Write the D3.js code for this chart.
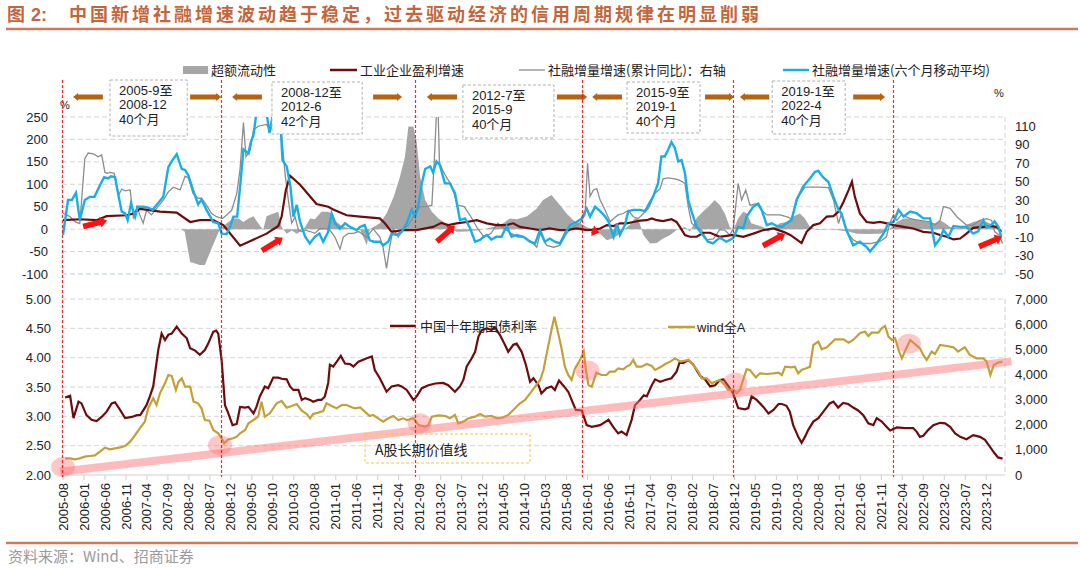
<!DOCTYPE html>
<html lang="zh">
<head>
<meta charset="UTF-8">
<title>社融增速与信用周期</title>
<script src="https://d3js.org/d3.v7.min.js"></script>
<style>
  body { margin: 0; background: #fff; }
  svg { display: block; }
  text { font-family: "Liberation Sans", Arial, "Noto Sans CJK SC", sans-serif; fill: #222; }
  .cjk { font-family: "Noto Sans CJK SC", sans-serif; }
</style>
</head>
<body>
<script>
// month index: 0 = 2005-08
const xTickLabels = ["2005-08","2006-01","2006-06","2006-11","2007-04","2007-09","2008-02","2008-07","2008-12","2009-05","2009-10","2010-03","2010-08","2011-01","2011-06","2011-11","2012-04","2012-09","2013-02","2013-07","2013-12","2014-05","2014-10","2015-03","2015-08","2016-01","2016-06","2016-11","2017-04","2017-09","2018-02","2018-07","2018-12","2019-05","2019-10","2020-03","2020-08","2021-01","2021-06","2021-11","2022-04","2022-09","2023-02","2023-07","2023-12"]
const topLeftTicks = [-100, -50, 0, 50, 100, 150, 200, 250]
const topRightTicks = [-50, -30, -10, 10, 30, 50, 70, 90, 110]
const botLeftTicks = [2, 2.5, 3, 3.5, 4, 4.5, 5]
const botRightTicks = [0, 1000, 2000, 3000, 4000, 5000, 6000, 7000]

// 超额流动性 (左轴)
const excessLiquidity = [[0,0],[28,0],[29,-5],[30.3,-73],[32.6,-80],[33.8,-80],[35.4,-43],[36.6,-17],[37.4,0],[39,13],[40.6,24],[41.8,24],[43,16],[44.2,24],[45.4,29],[46.5,13],[47.7,-2],[48.5,29],[50.1,35],[51.3,39],[52.1,5],[53.3,-10],[54.5,-3],[55.7,-10],[56.5,-6],[57.7,5],[58.9,24],[60,22],[61.6,39],[63.2,39],[64.4,32],[65.2,16],[66.8,5],[68.4,2],[70.8,-2],[72.4,-36],[73.1,0],[75.5,13],[77.1,35],[78.8,72],[80.3,117],[81.5,162],[82.3,229],[83.5,229],[84.3,192],[85.1,117],[86.3,65],[87.9,39],[89.5,24],[90.7,16],[92.2,1.5],[93.8,-6],[96.2,-5],[99.4,-2],[102.5,5],[104.9,13],[106.5,24],[108.1,22],[110.5,28],[112.9,46],[114.4,65],[116.4,76],[118.4,54],[120,35],[121.6,20],[123.2,13],[124.8,5],[126.4,-2],[128,-10],[129.6,-25],[131.2,-20],[132.3,-13],[133.5,-2],[135.1,10],[136.3,25],[137.1,22],[138.3,-13],[139.9,-32],[141.5,-31],[143,-21],[144.7,-13],[146.2,-2],[148.2,5],[149.4,-6],[151,25],[152.6,40],[154.2,54],[155.3,65],[156.5,54],[157.7,35],[158.9,5],[159.7,-2],[160.9,24],[162.1,39],[163,35],[164,13],[165.3,9],[166.9,5],[168,-6],[169.3,1.5],[170.8,13],[172.4,16],[174,28],[175.6,35],[176.8,24],[178,5],[179.6,-2],[182,-1],[184.4,-2],[187.5,-6],[189.1,-10],[191.5,-11],[194.7,-10],[196.3,-6],[197.4,5],[198.7,16],[200.3,24],[201.9,24],[204.2,19],[206.2,16],[207.8,13],[209,20],[210.2,13],[211.4,5],[213.8,2],[215.3,9],[216.9,16],[218.5,20],[220.1,16],[221.7,9],[223.3,-2]]

// 工业企业盈利增速 (左轴)
const industrialProfit = [[0,20],[4,22],[8,20],[10.4,29],[15.2,31],[16.8,35],[18.3,45],[20.3,43],[23.1,39],[27.1,37],[30.3,16],[32.6,20],[35.8,20],[38.2,9],[42.2,-37],[48.5,-10],[51.3,7],[52.1,28],[53.1,87],[54.1,119],[56.5,99],[60.4,56],[63.2,50],[64.4,44],[67.6,31],[70.8,28],[75.5,24],[76.7,13],[78.3,-6],[81,-2],[84.2,-2],[88.2,5],[90.2,14],[91.8,9],[93.8,13],[96.2,16],[98.6,20],[101,13],[103.3,9],[105.7,9],[107.3,13],[108.9,5],[111.3,1.5],[113.7,-2],[116,1.5],[118.4,-2],[120,-2],[122.4,1.5],[124.8,-2],[126.4,-1],[128,1.5],[129.6,9],[131.2,7],[132.7,13],[134.3,13],[135.9,16],[137.5,19],[139.1,20],[140.3,24],[141.5,20],[143,18],[145,22],[146.2,16],[147,5],[148.2,-13],[149.4,-17],[151,-17],[152.6,-8],[154.2,-8],[156.5,-17],[159.7,-13],[162.1,-17],[164.5,-10],[166.9,-2],[169.3,1.5],[171.7,-6],[173.3,-13],[174.8,-23],[176,-31],[177.2,-6],[178.8,9],[180.4,13],[182,28],[183.6,29],[184.8,39],[186,61],[187.2,87],[188,106],[188.7,72],[189.9,35],[191.5,16],[193.1,14],[194.7,16],[196.3,13],[197.9,9],[200.3,5],[202.6,1.5],[205,-6],[207.4,-8],[209,-13],[210.6,-17],[212.2,-23],[213.8,-21],[215.3,-10],[216.9,3],[219.3,5],[220.9,7],[222.5,5],[223.6,-6]]

// 社融增量增速(累计同比) (右轴)
const sfCumulative = [[0,15.5],[0.9,14],[1.7,12],[2.9,6.5],[4,4.7],[5.2,75],[6,81],[7.2,80],[8.4,77],[9.2,79],[10,60],[10.6,59],[11.2,60],[12.2,59],[13.2,35],[14,42],[14.8,40],[16,41],[16.8,10],[17.6,23],[18.3,14],[19.1,5],[19.9,19],[21.1,14],[22.3,21],[23.9,30],[25.1,39],[26.3,44],[27.9,41],[29.1,56],[29.9,54],[31,37],[32.2,32],[33,32],[34.2,24.5],[35.4,15.5],[36.6,12],[38,10],[39,14],[40.2,19],[41.4,37],[42.2,64],[43,114],[43.6,77],[44.6,84],[45.4,106],[46.5,110],[48.5,112],[49.3,106],[50.5,112],[51.3,112],[52.1,100],[52.9,59],[53.7,30],[54.5,5],[55.3,12],[56.1,-2.5],[56.9,-4],[57.7,-2.5],[58.9,-4],[60,-6],[61.2,-1],[62.4,-1],[63.6,-2.5],[64.8,-10],[66,-23],[66.8,-10],[68,-6],[69.2,-6],[70.4,-4],[72.4,-10],[73.9,-1],[75.5,-10],[76.3,-22],[77.1,-44],[77.9,-19],[78.7,-1],[79.9,-10],[81,-2.5],[82.3,3],[83.9,15.5],[85.1,23],[86.7,23],[87.9,24.5],[88.6,84],[89,125],[89.4,125],[89.7,71],[90.5,62],[91.6,53],[92.4,48],[93.2,37],[94,24.5],[95.6,23],[97.2,12],[98.8,-1],[100.4,-10],[102,-6],[103.6,5],[105.2,-1],[106.8,-6],[108.4,-10],[110,-10],[111.6,-15],[112.9,-21],[113.7,-6],[115.3,-19],[116.9,-21],[118.4,-19],[120,-6],[121.6,1],[123.2,5],[124.4,14],[125,70],[125.6,34],[126.4,41],[127.2,42.5],[128,30],[129.2,19],[130.4,6.5],[131.2,10],[132.3,14],[133.5,15.5],[134.7,19],[135.9,12],[137.1,10],[138.3,15.5],[139.5,21],[141,37],[142.3,42.5],[143,53],[144.2,54],[145.8,53],[147,51.5],[148.2,48],[149,23],[149.8,4.7],[151,1],[152.2,-2.5],[153.4,-13],[155,-12],[156.5,-2],[157.7,-2.5],[158.9,-8],[159.7,-1],[160.9,48],[161.7,30],[162.7,41],[163.7,24.5],[165.3,26],[166.5,19],[167.7,14],[169.3,14],[170.8,14],[172.4,12],[173.6,10],[175.2,33.5],[176.8,44],[178.4,44],[180.4,44],[182.4,43.6],[183.6,30],[184.8,4.7],[185.5,15.5],[186.7,-4],[188.3,-13],[189.9,-17],[192.3,-17],[194.6,-15],[196.2,-10],[197,4.7],[197.9,14],[198.7,8],[199.8,14],[201.9,10],[204.2,8],[206.6,6.5],[207.8,3],[209,8],[209.8,23],[211.4,21],[213,12],[215.3,3],[216.9,3],[218.5,8],[220.1,10],[221.3,8],[222,-4],[223.1,-8],[223.9,-17]]

// 社融增量增速(六个月移动平均) (左轴)
const sfMovingAvg = [[0,-13],[1.2,65],[2.1,65],[3.1,81],[4,20],[5.2,65],[6.4,72],[7.5,72],[8.8,98],[9.8,116],[10.8,113],[11.4,118],[12.4,116],[13.2,76],[14,39],[14.8,35],[15.4,20],[16.2,57],[17.2,28],[17.8,50],[19.1,50],[20.3,48],[21.4,43],[22.3,54],[23.9,72],[25.1,138],[25.9,151],[27.1,167],[28.3,134],[29.1,132],[29.9,119],[31,87],[32.2,55],[33,66],[34.2,43],[35.8,16],[37,13],[37.8,-10],[39,-11],[39.8,5],[40.6,28],[41.5,28],[42.2,95],[43,178],[44.2,169],[44.7,192],[45.4,210],[46.1,260],[48.5,260],[49.2,214],[50.1,260],[51.7,260],[52.3,154],[53.3,140],[54.2,95],[54.9,28],[55.7,54],[56.5,16],[57.7,-17],[58.8,-32],[60,-17],[61.1,-10],[62,-28],[63.2,-6],[64,35],[64.8,13],[66,1],[67.2,13],[68.4,5],[70,-2],[70.8,5],[71.9,9],[73.1,-25],[74.1,-28],[75.5,-28],[76.3,-36],[77.5,-28],[78.3,-10],[79.5,-13],[80.7,-6],[81.9,13],[83.1,43],[83.9,28],[84.7,54],[85.5,102],[86.3,134],[87.5,140],[88.2,126],[89,151],[89.8,143],[91,102],[92.2,102],[93.4,80],[94.6,20],[95.8,24],[97,2],[98.2,-28],[99.4,-24],[100.2,-17],[101,-13],[102.1,-23],[103.3,-17],[104.5,-17],[105.7,7],[106.9,-17],[108.1,-13],[109.7,-17],[111.3,-28],[112.5,-32],[113.7,-2],[114.8,-28],[116,-21],[117.2,-28],[118.4,-32],[119.6,-10],[120.8,9],[122.4,16],[123.6,24],[124.8,46],[125.6,28],[126.8,50],[128,40],[129.2,28],[130,16],[131.2,-17],[132,13],[132.7,-13],[133.9,9],[134.7,40],[135.9,43],[137.5,43],[138.7,40],[139.5,54],[140.6,72],[141.8,102],[142.6,162],[143.4,162],[144.2,177],[145,194],[145.8,181],[146.6,151],[147.4,154],[148.2,125],[149,65],[149.8,39],[151,5],[152.2,-10],[153.7,-28],[154.9,-32],[156.5,-19],[158.1,-28],[159.7,-20],[160.9,5],[162.1,2],[162.9,28],[164.5,50],[165.7,57],[166.5,43],[167.7,9],[168.9,13],[170.1,7],[171.3,5],[172.4,13],[173.6,20],[174.8,65],[176.4,95],[178,113],[179.2,128],[180,130],[181.1,116],[182.4,105],[183.6,72],[184.8,43],[185.5,35],[186.7,-2],[188.3,-36],[189.9,-28],[191.5,-40],[192.3,-50],[193.9,-32],[195.5,-10],[196.7,13],[197.9,16],[199.1,43],[200.3,28],[201.9,39],[203.5,35],[205,24],[206.6,24],[207.8,-36],[209,-21],[209.8,-2],[211,-17],[212.2,7],[213.8,5],[215.3,5],[216.9,-10],[218.1,-5],[219.3,20],[220.1,4],[221.3,10],[222,17],[222.9,5],[223.6,-17]]

// 中国十年期国债利率 (左轴, %)
const bondYield = [[0.5,3.32],[1.7,3.35],[2.5,2.97],[3.7,3.25],[4.4,3.22],[5.6,3.02],[6.8,2.94],[8,2.92],[9.2,2.99],[10.4,3.08],[11.6,3.22],[12.4,3.24],[13.6,3.11],[14.8,2.97],[16.4,2.99],[17.6,3.02],[18.4,3.02],[19.9,3.19],[20.7,3.34],[21.5,3.51],[22.7,4.13],[23.5,4.41],[24.3,4.3],[25.1,4.39],[25.9,4.41],[27.1,4.53],[28.3,4.41],[29.5,4.33],[30.3,4.16],[31.5,4.12],[32.6,4.05],[33.8,4.13],[34.6,4.24],[35.8,4.44],[36.5,4.46],[37,4.41],[37.8,3.96],[38.6,3.19],[39.4,3.05],[40.4,2.85],[41.4,2.87],[42.2,3.16],[43.4,3.15],[44.2,3.16],[45.4,3.05],[46.1,3.16],[46.9,3.34],[48.1,3.51],[48.9,3.48],[50.1,3.66],[51.3,3.66],[52.1,3.64],[53.3,3.63],[54.1,3.51],[54.9,3.45],[56.1,3.45],[56.9,3.28],[57.7,3.31],[58.9,3.28],[59.6,3.25],[60.8,3.28],[61.6,3.28],[62.4,3.34],[63.2,3.57],[63.6,3.88],[64.4,3.85],[65.2,3.93],[66.2,4.03],[67.2,3.9],[68.4,3.89],[69.2,3.85],[70.4,3.93],[72.4,3.99],[73.6,4.02],[74.3,3.79],[75.5,3.65],[77.1,3.42],[78.3,3.51],[79.9,3.53],[80.7,3.51],[81.9,3.45],[83.5,3.28],[84.3,3.34],[85.5,3.48],[87.1,3.53],[88.7,3.56],[90.6,3.57],[91.8,3.53],[93.4,3.42],[94.6,3.51],[95.4,3.62],[96.2,3.85],[97.4,3.99],[98.2,4.1],[99,4.36],[99.8,4.47],[101,4.5],[102.1,4.47],[102.9,4.52],[104.1,4.39],[105.3,4.22],[106.1,4.1],[107.3,4.22],[108.1,4.24],[109.3,4.1],[110.3,3.88],[111.3,3.59],[112.1,3.65],[113.3,3.53],[114,3.39],[115.2,3.48],[116.4,3.51],[117.2,3.45],[118.2,3.61],[119.4,3.51],[120.4,3.42],[121.2,3.28],[122.2,3.11],[123.6,3.1],[124.8,2.85],[126,2.82],[128,2.85],[130,2.94],[131.1,2.82],[132.3,2.71],[133.1,2.74],[134.3,2.68],[135.5,2.94],[136.3,3.19],[137.5,3.28],[138.4,3.36],[139.1,3.34],[140.3,3.53],[141.1,3.63],[142.3,3.59],[143.5,3.62],[145,3.65],[146.2,3.76],[147,3.93],[147.8,3.91],[149,3.96],[150.2,3.88],[151.8,3.69],[153,3.63],[154.2,3.51],[155.4,3.53],[156.5,3.62],[157.4,3.63],[158.6,3.51],[159.7,3.39],[160.9,3.14],[162.5,3.12],[163.3,3.14],[164.1,3.34],[165.3,3.28],[166.9,3.16],[168.1,3.05],[169.3,3.11],[170.5,3.21],[171.3,3.21],[172.4,3.18],[173.2,3.08],[174,2.85],[175.2,2.65],[176,2.55],[176.8,2.65],[177.6,2.77],[178.8,2.91],[180,2.97],[181.2,3.08],[182.7,3.22],[183.6,3.25],[184.7,3.15],[185.9,3.23],[187.1,3.21],[188.3,3.15],[189.5,3.1],[190.7,3.02],[191.9,2.88],[193.1,2.85],[193.9,2.97],[195.1,2.91],[196.3,2.82],[197.1,2.76],[198.7,2.81],[200.6,2.8],[202.6,2.8],[203.4,2.74],[204.2,2.65],[205,2.67],[206.2,2.77],[207.4,2.85],[209,2.89],[210.2,2.88],[211.4,2.82],[212.6,2.71],[213.8,2.65],[215.3,2.61],[216.9,2.68],[218.5,2.65],[219.7,2.6],[220.9,2.48],[222,2.37],[222.8,2.3],[223.9,2.28]]

// wind全A (右轴)
const windA = [[0.5,663],[1.7,663],[2.9,623],[4,663],[5.2,729],[6.4,756],[7.6,782],[8.8,928],[10,1087],[11.2,1021],[12.4,1061],[13.6,1101],[14.8,1154],[16,1326],[17.2,1591],[18.3,1856],[19.5,2122],[20.3,2652],[21.5,3050],[22.3,2785],[23.1,3249],[24.3,3647],[25.1,3978],[25.9,3938],[26.9,3381],[27.5,3700],[28.3,3845],[29.1,3514],[30.3,3514],[31.1,2917],[32.2,2851],[33,2652],[33.8,2188],[34.9,2161],[35.8,1790],[37,1658],[37.8,1459],[38.4,1260],[39.4,1419],[40.6,1459],[41.4,1525],[42.2,1658],[43.4,1790],[44.2,2055],[45.4,2188],[46.5,2321],[47.3,2917],[48.1,2321],[49.3,2453],[50.9,2851],[52.1,2944],[53.3,2679],[54.5,2745],[55.7,2824],[56.9,2559],[58.1,2427],[58.9,2254],[59.6,2427],[60.8,2480],[62,2546],[62.8,2851],[64,2745],[65.2,2652],[66.4,2785],[67.6,2785],[68.8,2692],[69.6,2652],[70.8,2692],[71.9,2519],[73.1,2347],[73.9,2387],[75.1,2254],[76.3,2122],[77.5,2254],[78.7,2347],[79.9,2188],[81.1,2254],[81.9,2188],[83.5,2254],[84.7,1989],[86.3,1923],[87.1,1989],[87.9,2321],[89.5,2374],[91.1,2347],[92.2,2254],[93.4,2387],[94.2,2055],[95.4,2122],[96.6,2254],[98.2,2321],[99.4,2427],[100.6,2321],[102.1,2347],[103.4,2254],[104.9,2294],[106.1,2387],[107.3,2586],[108.9,2851],[110.1,2983],[111.3,3249],[112.5,3514],[113.7,3779],[114.5,4177],[115.6,5105],[116.4,5768],[117.1,6299],[118,5636],[118.8,5039],[119.6,4310],[120.4,3978],[121.2,3779],[122,4243],[123.2,4575],[124.1,4906],[124.6,4177],[125.2,3580],[126,3514],[127.1,4071],[128.3,3978],[129.5,3978],[130.3,4111],[131.5,4111],[132.3,4243],[133.5,4203],[134.3,4310],[135.1,4376],[135.9,4575],[136.7,4310],[137.9,4310],[139.1,4416],[140.3,4336],[141.1,4177],[142.3,4283],[143.5,4416],[144.7,4508],[145.9,4641],[147.1,4508],[148.3,4548],[149.1,4575],[150.2,4376],[151.4,4111],[152.2,3845],[153.4,3845],[154.6,3647],[155.4,3713],[156.5,3779],[157.7,3580],[158.5,3381],[159.7,3408],[160.5,3249],[161.3,3381],[162.1,3806],[162.9,4203],[163.7,4177],[165.1,3885],[166.1,4044],[167.7,4018],[169.3,4044],[170.5,4071],[171.3,3978],[172.1,4310],[173.6,4283],[174.4,4310],[175.2,4044],[176,4177],[177.1,4243],[178,4310],[178.8,5171],[180,5304],[180.8,4999],[182,5079],[184,5397],[186,5397],[187.2,5264],[188.3,5370],[189.9,5636],[191.1,5702],[191.9,5529],[192.7,5662],[194.3,5662],[195.1,5834],[195.9,5927],[196.7,5503],[197.5,5370],[198.3,5437],[199.1,4973],[199.9,4641],[200.6,4906],[201.9,5370],[203,5211],[204.2,5039],[205,4774],[205.8,4575],[207,4906],[207.8,4813],[209,5171],[210.6,5132],[212.2,5079],[213.3,4906],[214.9,5079],[216.1,4774],[217.7,4641],[219.3,4641],[220.1,4508],[221,3978],[221.8,4376],[222.8,4469],[223.9,4508]]

// 信用周期分界、周期标注
const cycleBreaks = [0, 38, 84, 124, 160, 198]
const cycleText = [["2005-9至","2008-12","40个月"],["2008-12至","2012-6","42个月"],["2012-7至","2015-9","40个月"],["2015-9至","2019-1","40个月"],["2019-1至","2022-4","40个月"]]
// A股长期价值线 (右轴), 端点
const valueLine = [[-0.7, 130], [226, 4520]]
// 估值底部标记 (右轴)
const valueMarks = [[0, 316], [37.4, 1186], [85, 2057], [125, 4153], [160.2, 3678], [201.6, 5221]]
// 红色箭头 (左轴): [起点, 终点]
const redArrows = [[[4.8, 6], [10.5, 19]], [[47.4, -48], [52.4, -19]], [[89.1, -28], [93.4, 8]], [[126, -3], [127.8, -8]], [[166.8, -37], [172.1, -10]], [[218.3, -39], [223.8, -17]]]

// ---- layout (pixels) ----
const width = 1080, height = 568
const boxLayout = [[11.2, 29.6, 80, 136], [49.8, 71.3, 82, 134], [95.3, 117, 85, 138], [134.4, 151.8, 82, 133], [169, 186.4, 81, 134]]
const flowArrows = [[2.4, 9.5, -1], [30.3, 37.7, 1], [40.3, 47.4, -1], [73.9, 80.8, 1], [86.7, 93.9, -1], [117.7, 124.9, 1], [126.1, 133.2, -1], [153, 159.9, 1], [161.3, 168.3, -1], [188.3, 195.9, 1]]

const svg = d3.select('body').append('svg')
    .attr('width', width)
    .attr('height', height)

const x = d3.scaleLinear().domain([0, 224]).range([63, 1003])
const plotL = 62, plotR = 1005
const yL1 = d3.scaleLinear().domain([-100, 250]).range([274, 117])
const yR1 = d3.scaleLinear().domain([-50, 120]).range([274, 117])
const yL2 = d3.scaleLinear().domain([2, 5]).range([475, 299])
const yR2 = d3.scaleLinear().domain([0, 7000]).range([475, 299])

function mi(s) {
    const p = s.split('-').map(Number)
    return (p[0] - 2005) * 12 + p[1] - 8
}

// title
const title = svg.append('text').attr('y', 21)
    .style('font-size', '18px').style('font-weight', 'bold')
title.append('tspan').attr('x', 7).attr('class', 'cjk').style('fill', '#c4663c').text('图')
title.append('tspan').attr('x', 31).style('fill', '#c4663c').text('2:')
title.append('tspan').attr('x', 69).attr('class', 'cjk')
    .style('fill', '#c4663c').style('letter-spacing', '3px')
    .text('中国新增社融增速波动趋于稳定，过去驱动经济的信用周期规律在明显削弱')
svg.append('line').attr('x1', 6).attr('x2', 1078).attr('y1', 29).attr('y2', 29)
    .attr('stroke', '#c97b5b').attr('stroke-width', 2.5)

// legend (top)
const lg = svg.append('g').style('font-size', '13px')
lg.append('rect').attr('x', 183).attr('y', 66).attr('width', 25).attr('height', 8).attr('fill', '#a6a6a6')
lg.append('text').attr('class', 'cjk').attr('x', 211).attr('y', 74.5).text('超额流动性')
lg.append('line').attr('x1', 330).attr('x2', 357).attr('y1', 70).attr('y2', 70).attr('stroke', '#6e0c0c').attr('stroke-width', 2.5)
lg.append('text').attr('class', 'cjk').attr('x', 360).attr('y', 74.5).text('工业企业盈利增速')
lg.append('line').attr('x1', 519).attr('x2', 545).attr('y1', 70).attr('y2', 70).attr('stroke', '#8c8c8c').attr('stroke-width', 1.3)
lg.append('text').attr('class', 'cjk').attr('x', 548).attr('y', 74.5).text('社融增量增速(累计同比)：右轴')
lg.append('line').attr('x1', 783).attr('x2', 809).attr('y1', 70).attr('y2', 70).attr('stroke', '#18aee8').attr('stroke-width', 2.5)
lg.append('text').attr('class', 'cjk').attr('x', 812).attr('y', 74.5).text('社融增量增速(六个月移动平均)')

// ---- top panel ----
const gTop = svg.append('g')
gTop.selectAll('.gridT').data(topLeftTicks).enter().append('line')
    .attr('x1', plotL).attr('x2', plotR)
    .attr('y1', d => yL1(d)).attr('y2', d => yL1(d))
    .attr('stroke', d => d === -100 ? '#b9c9e4' : '#d6d6d6')
    .attr('stroke-dasharray', '5,3')
gTop.append('line').attr('x1', plotR).attr('x2', plotR).attr('y1', 117).attr('y2', 274)
    .attr('stroke', '#c8d3e6').attr('stroke-dasharray', '5,3')

svg.append('clipPath').attr('id', 'clipTop').append('rect')
    .attr('x', plotL).attr('y', 117).attr('width', plotR - plotL).attr('height', 157)
const topData = gTop.append('g').attr('clip-path', 'url(#clipTop)')

topData.append('path').datum(excessLiquidity)
    .attr('fill', '#a6a6a6')
    .attr('d', d3.area().x(d => x(d[0])).y0(yL1(0)).y1(d => yL1(d[1])))
topData.append('path').datum(sfCumulative)
    .attr('fill', 'none').attr('stroke', '#8c8c8c').attr('stroke-width', 1.3)
    .attr('d', d3.line().x(d => x(d[0])).y(d => yR1(d[1])))
topData.append('path').datum(industrialProfit)
    .attr('fill', 'none').attr('stroke', '#6e0c0c').attr('stroke-width', 2.2)
    .attr('d', d3.line().x(d => x(d[0])).y(d => yL1(d[1])))
topData.append('path').datum(sfMovingAvg)
    .attr('fill', 'none').attr('stroke', '#18aee8').attr('stroke-width', 2.4)
    .attr('d', d3.line().x(d => x(d[0])).y(d => yL1(d[1])))

// axes labels top
gTop.selectAll('.tl').data(topLeftTicks).enter().append('text')
    .attr('x', 48).attr('y', d => yL1(d)).attr('dy', '0.35em')
    .attr('text-anchor', 'end').style('font-size', '13px').text(d => d)
gTop.selectAll('.tr').data(topRightTicks).enter().append('text')
    .attr('x', 1015).attr('y', d => yR1(d)).attr('dy', '0.35em')
    .style('font-size', '13px').text(d => d)
svg.append('text').attr('x', 60).attr('y', 109).style('font-size', '11px').text('%')
svg.append('text').attr('x', 994).attr('y', 97).style('font-size', '11px').text('%')

// red arrows (top)
function arrowPath(p0, p1, sw, hw, hl) {
    const dx = p1[0] - p0[0], dy = p1[1] - p0[1]
    const len = Math.hypot(dx, dy), ux = dx / len, uy = dy / len
    const nx = -uy, ny = ux
    const b = Math.max(len - hl, 0)
    const pt = (a, n) => [p0[0] + ux * a + nx * n, p0[1] + uy * a + ny * n]
    return d3.line()([pt(0, -sw), pt(b, -sw), pt(b, -hw), pt(len, 0), pt(b, hw), pt(b, sw), pt(0, sw)]) + 'Z'
}
gTop.selectAll('.redArrow').data(redArrows).enter().append('path')
    .attr('fill', '#ff1010')
    .attr('d', d => arrowPath([x(d[0][0]), yL1(d[0][1])], [x(d[1][0]), yL1(d[1][1])], 2.8, 5.5, 7))

// cycle boxes
const boxes = svg.append('g')
boxLayout.forEach((b, i) => {
    const g = boxes.append('g')
    g.append('rect').attr('x', x(b[0])).attr('y', b[2])
        .attr('width', x(b[1]) - x(b[0])).attr('height', b[3] - b[2])
        .attr('fill', '#fff').attr('stroke', '#b0b0b0').attr('stroke-dasharray', '3,2')
    cycleText[i].forEach((t, j) => {
        g.append('text').attr('x', x(b[0]) + 9).attr('y', b[2] + 10 + j * 14.5)
            .attr('dy', '0.35em').style('font-size', '13px').text(t)
    })
})

// flow arrows (orange)
svg.selectAll('.flow').data(flowArrows).enter().append('path')
    .attr('fill', '#b8620e')
    .attr('d', d => {
        const a = d[2] < 0 ? [x(d[1]), 97] : [x(d[0]), 97]
        const b = d[2] < 0 ? [x(d[0]), 97] : [x(d[1]), 97]
        return arrowPath(a, b, 2.5, 4, 5)
    })

// ---- bottom panel ----
const gBot = svg.append('g')
gBot.selectAll('.gridB').data(botLeftTicks.filter(d => d > 2)).enter().append('line')
    .attr('x1', plotL).attr('x2', plotR)
    .attr('y1', d => yL2(d)).attr('y2', d => yL2(d))
    .attr('stroke', '#d6d6d6').attr('stroke-dasharray', '5,3')
gBot.append('line').attr('x1', plotR).attr('x2', plotR).attr('y1', 299).attr('y2', 475)
    .attr('stroke', '#d0d0d0').attr('stroke-dasharray', '5,3')
gBot.append('line').attr('x1', plotL).attr('x2', plotR).attr('y1', 475).attr('y2', 475)
    .attr('stroke', '#cfcfcf').attr('stroke-width', 1.2)
gBot.selectAll('.xt').data(xTickLabels).enter().append('line')
    .attr('x1', d => x(mi(d))).attr('x2', d => x(mi(d)))
    .attr('y1', 475).attr('y2', 480).attr('stroke', '#cfcfcf')
gBot.selectAll('.xl').data(xTickLabels).enter().append('text')
    .attr('transform', d => `translate(${x(mi(d))},483) rotate(-90)`)
    .attr('text-anchor', 'end').attr('dy', '0.35em')
    .style('font-size', '13px').text(d => d)

gBot.append('path').datum(bondYield)
    .attr('fill', 'none').attr('stroke', '#6e0c0c').attr('stroke-width', 2.2)
    .attr('d', d3.line().x(d => x(d[0])).y(d => yL2(d[1])))
gBot.append('path').datum(windA)
    .attr('fill', 'none').attr('stroke', '#c4a038').attr('stroke-width', 2.2)
    .attr('d', d3.line().x(d => x(d[0])).y(d => yR2(d[1])))

gBot.append('line')
    .attr('x1', x(valueLine[0][0])).attr('y1', yR2(valueLine[0][1]))
    .attr('x2', x(valueLine[1][0])).attr('y2', yR2(valueLine[1][1]))
    .attr('stroke', 'rgba(255,120,120,0.5)').attr('stroke-width', 8)
gBot.selectAll('.mark').data(valueMarks).enter().append('ellipse')
    .attr('cx', d => x(d[0])).attr('cy', d => yR2(d[1]))
    .attr('rx', 12).attr('ry', 10)
    .attr('fill', 'rgba(255,110,110,0.38)')

gBot.selectAll('.bl').data(botLeftTicks).enter().append('text')
    .attr('x', 51).attr('y', d => yL2(d)).attr('dy', '0.35em')
    .attr('text-anchor', 'end').style('font-size', '13px').text(d => d.toFixed(2))
gBot.selectAll('.br').data(botRightTicks).enter().append('text')
    .attr('x', 1015).attr('y', d => yR2(d)).attr('dy', '0.35em')
    .style('font-size', '13px').text(d => d3.format(',')(d))

// bottom legend
gBot.append('line').attr('x1', 390).attr('x2', 416).attr('y1', 326).attr('y2', 326)
    .attr('stroke', '#6e0c0c').attr('stroke-width', 2.5)
gBot.append('text').attr('class', 'cjk').attr('x', 420).attr('y', 330.5).style('font-size', '13px').text('中国十年期国债利率')
gBot.append('line').attr('x1', 668).attr('x2', 695).attr('y1', 327).attr('y2', 327)
    .attr('stroke', '#c4a038').attr('stroke-width', 2.5)
gBot.append('text').attr('x', 697).attr('y', 331.5).style('font-size', '13px').text('wind全A')

// A股长期价值线 label
gBot.append('rect').attr('x', 365).attr('y', 434).attr('width', 165).attr('height', 29)
    .attr('fill', 'none').attr('stroke', '#f2c744').attr('stroke-dasharray', '3,2')
gBot.append('text').attr('class', 'cjk').attr('x', 375).attr('y', 455).style('font-size', '14px').text('A股长期价值线')

// red dotted cycle lines
svg.selectAll('.cyc').data(cycleBreaks).enter().append('line')
    .attr('x1', d => Math.round(x(d) - 1) + 0.5).attr('x2', d => Math.round(x(d) - 1) + 0.5)
    .attr('y1', 80).attr('y2', 477)
    .attr('stroke', '#ff0000').attr('stroke-opacity', 0.85)
    .attr('stroke-dasharray', '3,2').attr('stroke-width', 1.2)

// footer
svg.append('line').attr('x1', 6).attr('x2', 1078).attr('y1', 543).attr('y2', 543)
    .attr('stroke', '#c97b5b').attr('stroke-width', 2.5)
svg.append('text').attr('class', 'cjk').attr('x', 8).attr('y', 562)
    .style('font-size', '15px').style('fill', '#9a9a9a').text('资料来源：Wind、招商证券')
</script>
</body>
</html>
